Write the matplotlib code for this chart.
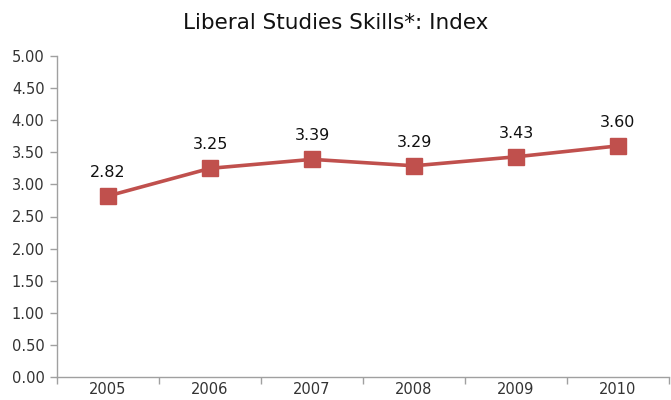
import matplotlib
matplotlib.use("Agg")
import matplotlib.pyplot as plt

years = ["2005", "2006", "2007", "2008", "2009", "2010"]
values = [2.82, 3.25, 3.39, 3.29, 3.43, 3.60]
yticks = [0.0, 0.5, 1.0, 1.5, 2.0, 2.5, 3.0, 3.5, 4.0, 4.5, 5.0]

plt.rcParams['font.family'] = ['DejaVu Sans']

fig = plt.figure(figsize=(6.71, 4.0), dpi=100)
ax = fig.add_axes([0.085, 0.0575, 0.912, 0.8025])

x = list(range(len(years)))
ax.plot(x, values, color='#C0504D', linewidth=2.6, marker='s', markersize=11,
        markerfacecolor='#C0504D', markeredgecolor='#C0504D', zorder=3)
for xi, v in zip(x, values):
    ax.annotate(f"{v:.2f}", (xi, v), xytext=(0, 17), textcoords='offset points',
                ha='center', va='center', fontsize=11.5, color='#111111')

ax.set_xlim(-0.5, len(years) - 0.5)
ax.set_ylim(0, 5)
ax.set_yticks(yticks)
ax.set_yticklabels([f"{t:.2f}" for t in yticks], fontsize=10.5, color='#333333')
ax.set_xticks(x)
ax.set_xticklabels(years, fontsize=10.5, color='#333333')
ax.tick_params(axis='x', length=0, pad=3.5)
ax.set_xticks([i + 0.5 for i in range(-1, len(years))], minor=True)
ax.tick_params(axis='x', which='minor', length=5, color='#A0A0A0', width=1)
ax.tick_params(axis='y', length=5, color='#A0A0A0', width=1, pad=4)

for s in ['top', 'right']:
    ax.spines[s].set_visible(False)
for s in ['left', 'bottom']:
    ax.spines[s].set_color('#A0A0A0')
    ax.spines[s].set_linewidth(1)

fig.text(0.5, 0.943, "Liberal Studies Skills*: Index", ha='center', va='center',
         fontsize=15.5, color='#111111')

fig.savefig("out.png", dpi=100)
